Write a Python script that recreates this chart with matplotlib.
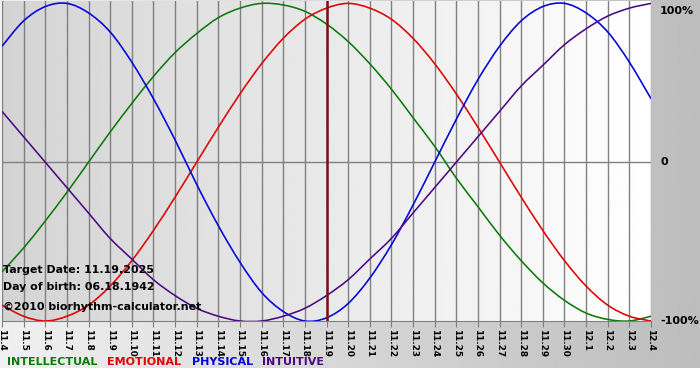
import matplotlib
matplotlib.use('Agg')
import matplotlib.pyplot as plt
from matplotlib.path import Path
from matplotlib.patches import PathPatch
import numpy as np

# days 11.4 .. 12.4
tick_labels = ['11.4', '11.5', '11.6', '11.7', '11.8', '11.9', '11.10', '11.11', '11.12',
               '11.13', '11.14', '11.15', '11.16', '11.17', '11.18', '11.19', '11.20',
               '11.21', '11.22', '11.23', '11.24', '11.25', '11.26', '11.27', '11.28',
               '11.29', '11.30', '12.1', '12.2', '12.3', '12.4']
target_idx = 15  # 11.19

intellectual = [-0.69, -0.54, -0.37, -0.19, 0.00, 0.19, 0.37, 0.54, 0.69, 0.81, 0.91,
                0.97, 1.00, 0.99, 0.95, 0.87, 0.76, 0.62, 0.46, 0.28, 0.10, -0.10,
                -0.28, -0.46, -0.62, -0.76, -0.87, -0.95, -0.99, -1.00, -0.97]
emotional = [-0.90, -0.97, -1.00, -0.97, -0.90, -0.78, -0.62, -0.43, -0.22, 0.00, 0.22,
             0.43, 0.62, 0.78, 0.90, 0.97, 1.00, 0.97, 0.90, 0.78, 0.62, 0.43, 0.22,
             0.00, -0.22, -0.43, -0.62, -0.78, -0.90, -0.97, -1.00]
physical = [0.73, 0.89, 0.98, 1.00, 0.94, 0.82, 0.63, 0.40, 0.14, -0.14, -0.40, -0.63,
            -0.82, -0.94, -1.00, -0.98, -0.89, -0.73, -0.52, -0.27, 0.00, 0.27, 0.52,
            0.73, 0.89, 0.98, 1.00, 0.94, 0.82, 0.63, 0.40]
intuitive = [0.32, 0.16, 0.00, -0.16, -0.32, -0.48, -0.61, -0.74, -0.84, -0.92, -0.97,
             -1.00, -1.00, -0.97, -0.92, -0.84, -0.74, -0.61, -0.48, -0.32, -0.16, 0.00,
             0.16, 0.32, 0.48, 0.61, 0.74, 0.84, 0.92, 0.97, 1.00]

c_int = '#0a7a0a'
c_emo = '#e00000'
c_phy = '#0000dd'
c_itu = '#4b0a82'


def smooth_line(ax, xs, ys, color):
    # draw a curve through the daily points with bezier segments
    xs = np.asarray(xs, float)
    ys = np.asarray(ys, float)
    n = len(xs)
    verts = [(xs[0], ys[0])]
    codes = [Path.MOVETO]
    for i in range(n - 1):
        x0, y0 = xs[max(i - 1, 0)], ys[max(i - 1, 0)]
        x3, y3 = xs[min(i + 2, n - 1)], ys[min(i + 2, n - 1)]
        c1 = (xs[i] + (xs[i + 1] - x0) / 6, ys[i] + (ys[i + 1] - y0) / 6)
        c2 = (xs[i + 1] - (x3 - xs[i]) / 6, ys[i + 1] - (y3 - ys[i]) / 6)
        verts += [c1, c2, (xs[i + 1], ys[i + 1])]
        codes += [Path.CURVE4] * 3
    ax.add_patch(PathPatch(Path(verts, codes), fill=False, edgecolor=color,
                           lw=1.15, zorder=3))


W, H = 700, 380
fig = plt.figure(figsize=(7, 3.8), dpi=100)
fig.patch.set_facecolor('white')

# background strip behind everything
bg = fig.add_axes([0, 12 / H, 1, 1 - 12 / H])
bg.imshow(np.linspace(0.94, 0.74, 256).reshape(1, -1), cmap='gray', vmin=0, vmax=1,
          aspect='auto', extent=[0, 1, 0, 1])
bg.axis('off')

ax = fig.add_axes([2 / W, 1 - 321 / H, 649 / W, 320 / H])
ax.imshow(np.linspace(0.83, 1.0, 256).reshape(1, -1), cmap='gray', vmin=0, vmax=1,
          aspect='auto', extent=[0, 1, 0, 1], transform=ax.transAxes, zorder=0)

x = np.arange(len(tick_labels))
for xi in x:
    ax.axvline(xi, color='#808080', lw=1, zorder=1)
ax.axhline(0, color='#808080', lw=1, zorder=1)

smooth_line(ax, x, intellectual, c_int)
smooth_line(ax, x, emotional, c_emo)
smooth_line(ax, x, physical, c_phy)
smooth_line(ax, x, intuitive, c_itu)
ax.axvline(target_idx, color='#7a1010', lw=1.8, zorder=4)

ax.set_xlim(0, 30)
ax.set_ylim(-1.0, 1.015)
ax.set_xticks(x)
ax.set_xticklabels(tick_labels, rotation=270, fontsize=6.4, fontweight='bold')
ax.tick_params(axis='x', length=4, color='#808080', pad=1.5)
ax.set_yticks([])
for s in ['top', 'left', 'right']:
    ax.spines[s].set_visible(False)
ax.spines['bottom'].set_color('#808080')

tr = ax.get_yaxis_transform()
for val, lab in [(0.955, '100%'), (0, '0'), (-1, '-100%')]:
    ax.text(1.014, val, lab, transform=tr, fontsize=8, fontweight='bold',
            va='center', ha='left', clip_on=False)

ax.text(0.002, -0.68, 'Target Date: 11.19.2025', fontsize=7.9, fontweight='bold',
        transform=tr, va='center', zorder=5)
ax.text(0.002, -0.785, 'Day of birth: 06.18.1942', fontsize=7.9, fontweight='bold',
        transform=tr, va='center', zorder=5)
ax.text(0.002, -0.91, '\u00a92010 biorhythm-calculator.net', fontsize=7.9,
        fontweight='bold', transform=tr, va='center', zorder=5)

for xp, lab, col in [(7, 'INTELLECTUAL', c_int), (107, 'EMOTIONAL', c_emo),
                     (192, 'PHYSICAL', c_phy), (262, 'INTUITIVE', c_itu)]:
    fig.text(xp / W, 1 - 362 / H, lab, color=col, fontsize=8, fontweight='bold',
             va='center', ha='left')

fig.savefig('out.png', dpi=100)
